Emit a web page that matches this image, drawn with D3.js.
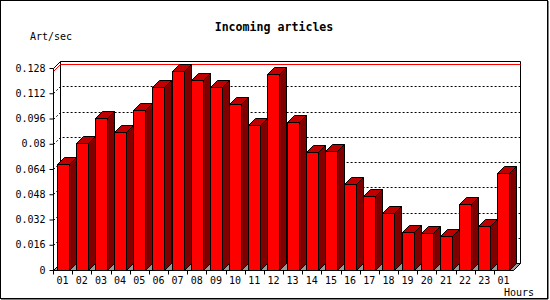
<!DOCTYPE html>
<html>
<head>
<meta charset="utf-8">
<script src="https://cdn.jsdelivr.net/npm/d3@7"></script>
<style>
body { margin: 0; background: #fff; }
svg { display: block; }
text { font-family: "DejaVu Sans Mono", monospace; font-size: 10px; fill: #000; }
</style>
</head>
<body>
<svg></svg>
<script>
var hours = ["01", "02", "03", "04", "05", "06", "07", "08", "09", "10", "11", "12",
             "13", "14", "15", "16", "17", "18", "19", "20", "21", "22", "23", "01"];
var rates = [0.0670, 0.0803, 0.0961, 0.0875, 0.1012, 0.1158, 0.1259, 0.1202,
             0.1158, 0.1050, 0.0917, 0.1240, 0.0936, 0.0746, 0.0752, 0.0543,
             0.0467, 0.0359, 0.0239, 0.0233, 0.0214, 0.0416, 0.0277, 0.0613];
var yTicks = [0, 0.016, 0.032, 0.048, 0.064, 0.08, 0.096, 0.112, 0.128];
var yTickLabels = ["0", "0.016", "0.032", "0.048", "0.064", "0.08", "0.096", "0.112", "0.128"];

var width = 550;
var height = 300;
var depth = 7;
var plotLeft = 53, plotRight = 513, plotBottom = 270, plotTop = 68;

var svg = d3.select("svg");
svg.attr("width", width).attr("height", height);

var xScale = d3.scaleBand()
               .domain(d3.range(hours.length))
               .range([plotLeft, plotRight])
               .paddingInner(0.375)
               .paddingOuter(0.1875);

var xEdge = d3.scaleLinear()
              .domain([0, hours.length])
              .range([plotLeft, plotRight]);

var yScale = d3.scaleLinear()
               .domain([0, 0.128])
               .range([plotBottom, plotTop]);

// outer frame
svg.append("rect")
  .attr("x", 0.5).attr("y", 0.5)
  .attr("width", 547).attr("height", 298)
  .attr("fill", "none").attr("stroke", "#000");
svg.append("path")
  .attr("d", "M548,1V299H1")
  .attr("fill", "none").attr("stroke", "#000");

// title and axis names
svg.append("text")
  .attr("x", 274).attr("y", 31)
  .attr("text-anchor", "middle")
  .style("font-weight", "bold").style("font-size", "11.6px")
  .text("Incoming articles");
svg.append("text").attr("x", 30).attr("y", 40).text("Art/sec");
svg.append("text").attr("x", 534).attr("y", 296).attr("text-anchor", "end").text("Hours");

var g = svg.append("g").attr("transform", "translate(0.5,0.5)");

// back wall
g.append("path")
  .attr("d", "M" + (plotLeft + depth) + "," + (plotBottom - depth) +
             "V" + (plotTop - depth) + "H" + (plotRight + depth) + "V" + (plotBottom - depth))
  .attr("fill", "none").attr("stroke", "#000");
g.append("path")
  .attr("d", "M" + plotLeft + "," + plotTop + "L" + (plotLeft + depth) + "," + (plotTop - depth))
  .attr("fill", "none").attr("stroke", "#000");

// dotted grid lines
g.selectAll(".grid")
  .data(yTicks.slice(1, -1))
  .enter()
  .append("path")
  .attr("class", "grid")
  .attr("d", function(d) {
    var yy = Math.round(yScale(d));
    return "M" + plotLeft + "," + yy + "L" + (plotLeft + depth) + "," + (yy - depth) + "H" + (plotRight + depth);
  })
  .attr("fill", "none").attr("stroke", "#000")
  .attr("stroke-dasharray", "2,2");

// max line
var maxY = Math.round(yScale(d3.max(rates)));
g.append("path")
  .attr("d", "M" + plotLeft + "," + maxY + "L" + (plotLeft + depth) + "," + (maxY - depth) + "H" + (plotRight + depth))
  .attr("fill", "none").attr("stroke", "#ff0000");

// floor
g.append("path")
  .attr("d", "M" + plotLeft + "," + plotBottom + "L" + (plotLeft + depth) + "," + (plotBottom - depth) +
             "H" + (plotRight + depth) + "L" + plotRight + "," + plotBottom + "Z")
  .attr("fill", "#999999").attr("stroke", "#000");

// bars
var bars = g.selectAll(".bar")
  .data(rates)
  .enter()
  .append("g")
  .attr("class", "bar");

bars.append("path")
  .attr("d", function(d, i) {
    var x0 = Math.round(xScale(i)) + Math.round(xScale.bandwidth()), yt = Math.round(yScale(d));
    return "M" + x0 + "," + yt + "l" + depth + "," + (-depth) +
           "V" + (plotBottom - depth) + "L" + x0 + "," + plotBottom + "Z";
  })
  .attr("fill", "#800000").attr("stroke", "#000");

bars.append("path")
  .attr("d", function(d, i) {
    var x0 = Math.round(xScale(i)), w = Math.round(xScale.bandwidth()), yt = Math.round(yScale(d));
    return "M" + x0 + "," + yt + "l" + depth + "," + (-depth) +
           "h" + w + "l" + (-depth) + "," + depth + "Z";
  })
  .attr("fill", "#c00000").attr("stroke", "#000");

bars.append("rect")
  .attr("x", function(d, i) { return Math.round(xScale(i)); })
  .attr("y", function(d) { return Math.round(yScale(d)); })
  .attr("width", Math.round(xScale.bandwidth()))
  .attr("height", function(d) { return plotBottom - Math.round(yScale(d)); })
  .attr("fill", "#ff0000").attr("stroke", "#000");

// front axes
g.append("path")
  .attr("d", "M" + plotLeft + "," + plotTop + "V" + plotBottom + "H" + plotRight)
  .attr("fill", "none").attr("stroke", "#000");

var yAxis = d3.axisLeft(yScale)
  .tickValues(yTicks)
  .tickFormat(function(d, i) { return yTickLabels[i]; })
  .tickSize(4)
  .tickPadding(4);
var ya = svg.append("g")
  .attr("transform", "translate(" + (plotLeft + 0.5) + ",0)")
  .call(yAxis);
ya.select(".domain").remove();
ya.selectAll("text").style("font-family", "DejaVu Sans Mono").style("font-size", "10px");

g.selectAll(".xtick")
  .data(d3.range(hours.length))
  .enter()
  .append("line")
  .attr("class", "xtick")
  .attr("x1", function(d) { return Math.round(xEdge(d)); })
  .attr("x2", function(d) { return Math.round(xEdge(d)); })
  .attr("y1", plotBottom).attr("y2", plotBottom + 4)
  .attr("stroke", "#000");

var xAxis = d3.axisBottom(xScale)
  .tickFormat(function(i) { return hours[i]; })
  .tickSize(0)
  .tickPadding(7);
var xa = svg.append("g")
  .attr("transform", "translate(0," + plotBottom + ")")
  .call(xAxis);
xa.select(".domain").remove();
xa.selectAll("text").style("font-family", "DejaVu Sans Mono").style("font-size", "10px");
</script>
</body>
</html>
